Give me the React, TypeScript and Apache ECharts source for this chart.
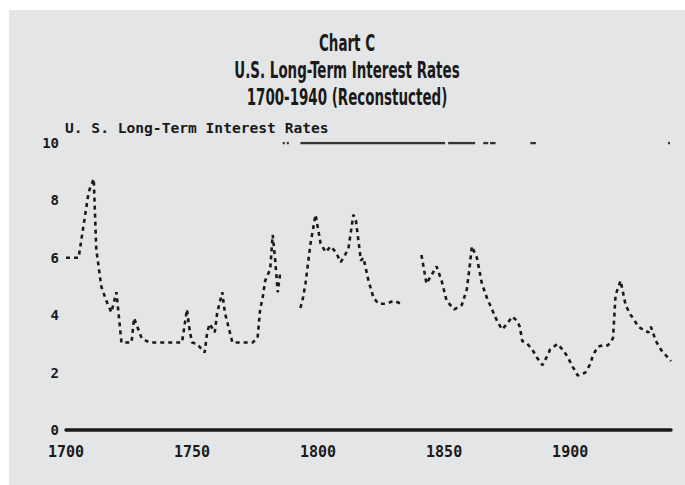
import React, { useEffect, useRef } from "react";
import * as echarts from "echarts";

const titleLines = ["Chart C", "U.S. Long-Term Interest Rates", "1700-1940 (Reconstucted)"];
const innerTitle = "U. S. Long-Term Interest Rates";

const years = [
  1700, 1702, 1705, 1709, 1711, 1712, 1714, 1716, 1718, 1720, 1722, 1724, 1726, 1727, 1730,
  1733, 1736, 1740, 1743, 1746, 1748, 1749, 1750, 1752, 1755, 1756, 1757, 1759, 1760, 1762,
  1763, 1766, 1768, 1770, 1774, 1776, 1777, 1778, 1779, 1781, 1782, 1783, 1784, 1785, 1789,
  1793, 1794, 1795, 1797, 1799, 1800, 1801, 1803, 1805, 1807, 1809, 1812, 1814, 1815, 1817,
  1818, 1820, 1822, 1824, 1827, 1830, 1833, 1837,
  1841, 1843, 1845, 1847, 1849, 1851, 1854, 1857, 1859, 1860, 1861, 1863, 1865, 1867, 1869,
  1871, 1873, 1875, 1877, 1879, 1880, 1881, 1883, 1885, 1887, 1889, 1891, 1892, 1895, 1897,
  1899, 1901, 1903, 1906, 1908, 1909, 1911, 1913, 1915, 1917, 1918, 1920, 1922, 1924, 1925,
  1927, 1929, 1931, 1932, 1934, 1936, 1938, 1940,
];
const rates: (number | null)[] = [
  6.0, 6.0, 6.0, 8.3, 8.75, 6.3, 5.0, 4.5, 4.1, 4.8, 3.05, 3.05, 3.05, 3.9, 3.2,
  3.05, 3.05, 3.05, 3.05, 3.05, 4.2, 3.5, 3.05, 3.0, 2.7, 3.4, 3.7, 3.4, 4.1, 4.8,
  4.1, 3.05, 3.05, 3.05, 3.05, 3.2, 4.2, 4.6, 5.2, 5.6, 6.8, 5.9, 4.8, 5.5, null,
  4.25, 4.6, 5.1, 6.5, 7.5, 7.0, 6.5, 6.2, 6.4, 6.2, 5.85, 6.3, 7.5, 7.3, 5.9,
  6.0, 5.2, 4.6, 4.4, 4.4, 4.5, 4.4, null,
  6.1, 5.1, 5.4, 5.7, 5.2, 4.5, 4.2, 4.35, 4.9, 5.6, 6.4, 6.0, 5.1, 4.6, 4.2,
  3.8, 3.5, 3.7, 3.95, 3.8, 3.6, 3.1, 3.0, 2.8, 2.5, 2.26, 2.6, 2.8, 3.0, 2.8,
  2.55, 2.2, 1.9, 2.0, 2.3, 2.6, 2.9, 2.95, 2.95, 3.2, 4.7, 5.2, 4.35, 4.0, 3.9,
  3.6, 3.5, 3.4, 3.6, 3.1, 2.8, 2.6, 2.4,
];

const ceilingLevel = 10;
const ceilingSegments: [number, number][] = [
  [1786, 1786.8], [1787.6, 1788.4], [1793, 1850.4], [1851.6, 1862.3],
  [1865.5, 1867.5], [1868.2, 1870.4], [1884.2, 1886.4], [1938.8, 1939.6],
];

const yTicks = { min: 0, max: 10, interval: 2 };
const xTicks = { min: 1700, max: 1940, interval: 50 };

export default function App() {
  const ref = useRef<HTMLDivElement>(null);
  useEffect(() => {
    if (!ref.current) return;
    const chart = echarts.init(ref.current, null, { renderer: "svg" });
    const mainData = years.map((y, i) => [y, rates[i] === null ? "-" : rates[i]]);
    const ceilData: any[] = [];
    ceilingSegments.forEach(([a, b], i) => {
      if (i > 0) ceilData.push([a - 0.1, "-"]);
      ceilData.push([a, ceilingLevel]);
      ceilData.push([b, ceilingLevel]);
    });
    const mono = "'DejaVu Sans Mono', 'Liberation Mono', monospace";
    const condensed = "'Liberation Sans Narrow', 'DejaVu Sans Condensed', 'Roboto Condensed', 'Liberation Sans', sans-serif";
    chart.setOption({
      animation: false,
      backgroundColor: "#e4e5e7",
      graphic: [
        ...titleLines.map((t, i) => ({
          type: "text",
          x: 338,
          y: 33 + i * 27,
          scaleX: 0.65,
          style: {
            text: t,
            fill: "#1a1a1a",
            font: `bold 23px ${condensed}`,
            textAlign: "center",
            textVerticalAlign: "middle",
          },
        })),
        {
          type: "text",
          x: 56,
          y: 117,
          style: {
            text: innerTitle,
            fill: "#1a1a1a",
            font: `bold 14.6px ${mono}`,
            textAlign: "left",
            textVerticalAlign: "middle",
          },
        },
      ],
      grid: { left: 57, right: 14, top: 133, bottom: 55, containLabel: false },
      xAxis: {
        type: "value",
        min: xTicks.min,
        max: xTicks.max,
        interval: xTicks.interval,
        axisLine: { show: true, onZero: true, lineStyle: { color: "#1a1a1a", width: 3.5 } },
        axisTick: { show: false },
        splitLine: { show: false },
        axisLabel: {
          showMaxLabel: false,
          margin: 14,
          color: "#1a1a1a",
          fontFamily: mono,
          fontWeight: "bold",
          fontSize: 15,
          formatter: (v: number) => String(v),
        },
      },
      yAxis: {
        type: "value",
        min: yTicks.min,
        max: yTicks.max,
        interval: yTicks.interval,
        axisLine: { show: false },
        axisTick: { show: false },
        splitLine: { show: false },
        axisLabel: {
          margin: 7,
          color: "#1a1a1a",
          fontFamily: mono,
          fontWeight: "bold",
          fontSize: 14,
        },
      },
      series: [
        {
          name: "rates",
          type: "line",
          data: mainData,
          showSymbol: false,
          connectNulls: false,
          lineStyle: { color: "#1a1a1a", width: 2.6, type: [4, 4] },
        },
        {
          name: "ceiling",
          type: "line",
          data: ceilData,
          showSymbol: false,
          connectNulls: false,
          lineStyle: { color: "#333", width: 2.5 },
        },
      ],
    });
    return () => chart.dispose();
  }, []);
  return (
    <div
      ref={ref}
      style={{ position: "absolute", left: 9, top: 10, width: 676, height: 475 }}
    />
  );
}
